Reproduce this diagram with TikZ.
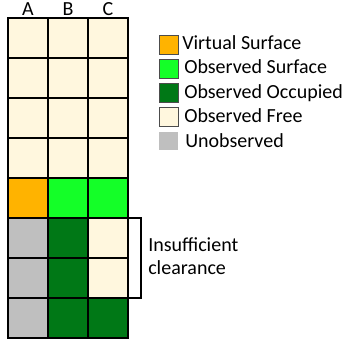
\documentclass[tikz,border=0pt]{standalone}
\usepackage{fontspec}
\setmainfont{Carlito}
\usepackage{tikz}
\usetikzlibrary{positioning}
\definecolor{free}{RGB}{255,247,222}
\definecolor{virt}{RGB}{255,179,0}
\definecolor{surf}{RGB}{20,255,40}
\definecolor{occ}{RGB}{0,120,22}
\definecolor{unobs}{RGB}{191,191,191}
\tikzset{
  cell/.style={rectangle, draw=black, line width=1.5pt, minimum width=30pt,
    minimum height=30pt, inner sep=0pt, outer sep=0pt},
  swatch/.style={rectangle, draw=black!70, line width=0.4pt, minimum size=14pt,
    inner sep=0pt},
  legtext/.style={anchor=base west, inner sep=0pt},
  collabel/.style={anchor=base, inner sep=0pt},
  bracket/.style={line width=1.5pt, color=black}
}

\begin{document}
\begin{tikzpicture}[x=0.75pt, y=-0.75pt, font=\fontsize{15pt}{18pt}\selectfont]
  \useasboundingbox (0,0) rectangle (342,350);

  % Grid cells
  \foreach \r in {0,...,3}
    \foreach \c/\x in {A/28, B/68, C/108}
      \node[cell, fill=free] (c\c\r) at (\x, 38+40*\r) {};
  \node[cell, fill=virt] (cA4) at (28,198) {};
  \node[cell, fill=surf] (cB4) at (68,198) {};
  \node[cell, fill=surf] (cC4) at (108,198) {};
  \foreach \r in {5,6,7}
    \node[cell, fill=unobs] (cA\r) at (28, 38+40*\r) {};
  \foreach \r in {5,6,7}
    \node[cell, fill=occ] (cB\r) at (68, 38+40*\r) {};
  \node[cell, fill=free] (cC5) at (108,238) {};
  \node[cell, fill=free] (cC6) at (108,278) {};
  \node[cell, fill=occ] (cC7) at (108,318) {};

  % Column labels
  \node[collabel] (labA) at (28,15) {A};
  \node[collabel] (labB) at (68,15) {B};
  \node[collabel] (labC) at (108,15) {C};

  % Legend
  \node[swatch, fill=virt] (s1) at (168.5,44.5) {};
  \node[swatch, fill=surf] (s2) at (168.5,68.5) {};
  \node[swatch, fill=occ] (s3) at (168.5,93) {};
  \node[swatch, fill=free] (s4) at (168.5,117) {};
  \node[swatch, fill=unobs, draw=none] (s5) at (168.5,141) {};
  \node[legtext] (t1) at (182,49.5) {Virtual Surface};
  \node[legtext] (t2) at (184,73.5) {Observed Surface};
  \node[legtext] (t3) at (184,98.5) {Observed Occupied};
  \node[legtext] (t4) at (184,122) {Observed Free};
  \node[legtext] (t5) at (185,147.5) {Unobserved};

  % Clearance bracket
  \draw[bracket] ([xshift=0.5pt]cC5.north east) -- ++(12,0) |- ([xshift=0.5pt]cC6.south east);
  \node[legtext] (ins) at (148,251) {Insufficient};
  \node[legtext] (clr) at (148,274) {clearance};
\end{tikzpicture}
\end{document}
